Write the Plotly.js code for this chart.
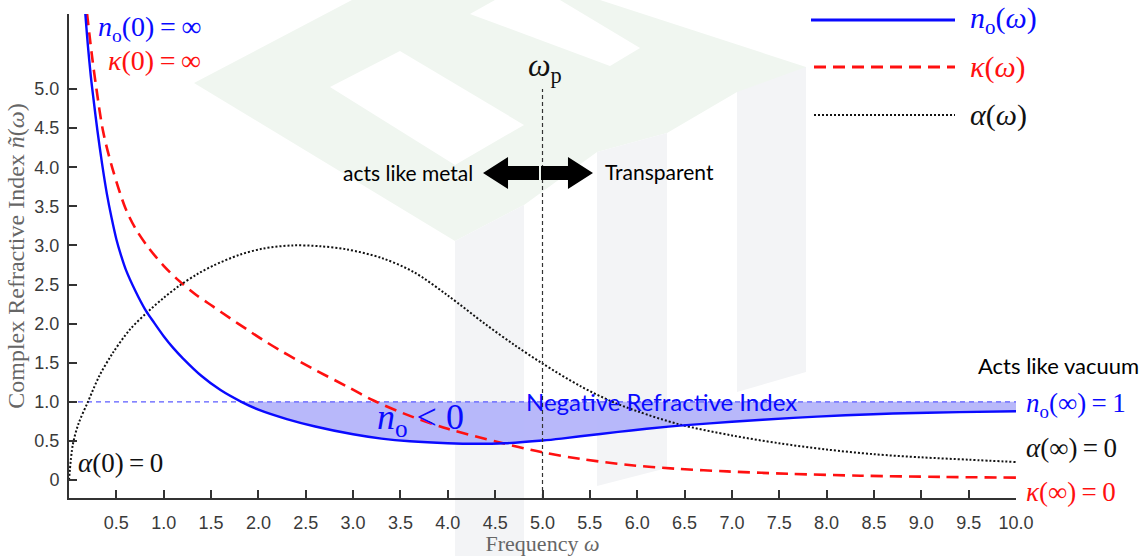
<!DOCTYPE html>
<html>
<head>
<meta charset="utf-8">
<script src="https://cdn.plot.ly/plotly-3.0.1.min.js"></script>
<style>html,body{margin:0;padding:0;background:#fff;}#chart{width:1144px;height:556px;}</style>
</head>
<body>
<div id="chart"></div>
<script>
// ---------------- data ----------------
const omegaN = [0.172,0.2,0.23,0.26,0.3,0.35,0.4,0.45,0.5,0.55,0.6,0.7,0.8,0.9,1.0,1.1,1.2,1.4,1.6,1.82,2.0,2.3,2.6,3.0,3.3,3.6,4.0,4.3,4.6,5.0,5.2,5.4,5.8,6.1,6.45,7.0,7.65,8.2,8.7,9.4,10];
const nO     = [5.97,5.55,5.17,4.86,4.47,4.04,3.66,3.35,3.08,2.87,2.69,2.42,2.19,2.01,1.84,1.69,1.56,1.33,1.15,1.0,0.9,0.78,0.685,0.585,0.53,0.495,0.47,0.463,0.47,0.505,0.53,0.56,0.615,0.655,0.695,0.745,0.795,0.828,0.85,0.868,0.88];

const omegaK = [0.19,0.24,0.29,0.36,0.46,0.595,0.70,0.84,1.0,1.16,1.34,1.52,1.70,1.874,2.05,2.226,2.4,2.58,2.93,3.21,3.6,4.0,4.55,5.0,5.4,5.89,6.4,6.95,7.6,8.36,9.2,10];
const kappa  = [5.97,5.45,5.0,4.46,3.98,3.48,3.22,2.97,2.74,2.55,2.37,2.22,2.07,1.93,1.79,1.66,1.54,1.42,1.2,1.02,0.82,0.655,0.48,0.355,0.27,0.195,0.145,0.11,0.08,0.055,0.04,0.03];

const omegaA = [0,0.04,0.1,0.2,0.32,0.46,0.64,0.84,1.0,1.16,1.35,1.52,1.8,2.05,2.35,2.65,2.93,3.3,3.64,4.0,4.4,4.7,5.0,5.4,5.74,6.0,6.45,7.0,7.5,8.0,8.5,9.0,9.5,10];
const alphaA = [0,0.45,0.72,1.0,1.33,1.62,1.92,2.16,2.33,2.48,2.63,2.74,2.88,2.96,3.0,2.99,2.95,2.84,2.66,2.36,1.99,1.73,1.49,1.2,1.0,0.88,0.71,0.57,0.47,0.39,0.33,0.29,0.26,0.23];

const omegaP = 5.0;      // plasma frequency
const nVacuum = 1.0;     // n_o(infinity)
const omegaMax = 10.0;

const xTickVals = [0.5,1.0,1.5,2.0,2.5,3.0,3.5,4.0,4.5,5.0,5.5,6.0,6.5,7.0,7.5,8.0,8.5,9.0,9.5,10.0];
const xTickText = ['0.5','1.0','1.5','2.0','2.5','3.0','3.5','4.0','4.5','5.0','5.5','6.0','6.5','7.0','7.5','8.0','8.5','9.0','9.5','10.0'];
const yTickVals = [0,0.5,1.0,1.5,2.0,2.5,3.0,3.5,4.0,4.5,5.0];
const yTickText = ['0','0.5','1.0','1.5','2.0','2.5','3.0','3.5','4.0','4.5','5.0'];

// ---------------- layout helpers ----------------
const L = 69, R = 1016, T = 14, B = 498;
const px = v => (v - L) / (R - L);
const py = v => (B - v) / (B - T);
const pathOf = pts => 'M' + pts.map(p => px(p[0]).toFixed(4) + ',' + py(p[1]).toFixed(4)).join(' L') + ' Z';

const BLUE = '#0a0aff', RED = '#ff1010', BLK = '#111111';
const SERIF = '"Liberation Serif", "Times New Roman", serif';
const SANS = 'Lato, "Open Sans", sans-serif';
const ARIAL = '"Liberation Sans", Arial, sans-serif';
const TS = '\u2009';   // thin space

// fill region where n_o < 1
const fillX = [], fillY = [];
omegaN.forEach((w, i) => { if (w >= 1.82) { fillX.push(w); fillY.push(nO[i]); } });

const SM = 0.9;
const traces = [
  {x: [fillX[0], omegaMax], y: [nVacuum, nVacuum], mode: 'lines', line: {width: 0, color: 'rgba(0,0,0,0)'}, hoverinfo: 'skip', showlegend: false},
  {x: fillX, y: fillY, mode: 'lines', fill: 'tonexty', fillcolor: 'rgba(178,178,250,0.92)', line: {width: 0, shape: 'spline', smoothing: SM, color: 'rgba(0,0,0,0)'}, hoverinfo: 'skip', showlegend: false},
  {x: [0, omegaMax], y: [nVacuum, nVacuum], mode: 'lines', line: {color: '#5c5cff', width: 1.4, dash: '5px,4px'}, showlegend: false},
  {x: omegaK, y: kappa, mode: 'lines', name: 'κ(ω)', line: {color: RED, width: 2.6, dash: '12px,7px', shape: 'spline', smoothing: SM}, showlegend: false},
  {x: omegaA, y: alphaA, mode: 'lines', name: 'α(ω)', line: {color: BLK, width: 2, dash: '2px,2px', shape: 'spline', smoothing: SM}, showlegend: false},
  {x: omegaN, y: nO, mode: 'lines', name: 'n_o(ω)', line: {color: BLUE, width: 2.4, shape: 'spline', smoothing: SM}, showlegend: false}
];

// watermark (light cube logo)
const GREEN = '#f0f6f0', GRAY = '#f3f4f6';
const wm = (pts, c) => ({type: 'path', xref: 'paper', yref: 'paper', layer: 'below', line: {width: 0}, fillcolor: c, path: pathOf(pts)});
const shapes = [
  wm([[194,83],[352,0],[600,0],[806,67],[806,95],[737,92],[667,133],[597,152],[524,205],[455,241]], GREEN),
  wm([[330,87],[400,51],[524,125],[455,165]], '#ffffff'),
  wm([[470,14],[495,0],[560,0],[640,48],[610,66]], '#ffffff'),
  wm([[455,241],[524,205],[524,556],[455,556]], GRAY),
  wm([[597,152],[667,133],[667,468],[597,486]], GRAY),
  wm([[737,92],[806,67],[806,372],[737,392]], GRAY),
  // omega_p marker line
  {type: 'line', xref: 'x', yref: 'y', x0: omegaP, x1: omegaP, y0: -0.23, y1: 5.0, line: {color: '#333', width: 1.2, dash: '4px,3px'}},
  // double arrow
  {type: 'path', xref: 'paper', yref: 'paper', line: {width: 0}, fillcolor: '#000',
   path: pathOf([[483,173],[508,157],[508,166],[539,166],[539,180],[508,180],[508,189]])},
  {type: 'path', xref: 'paper', yref: 'paper', line: {width: 0}, fillcolor: '#000',
   path: pathOf([[541,166],[568,166],[568,157],[593,173],[568,189],[568,180],[541,180]])},
  // legend samples
  {type: 'line', xref: 'paper', yref: 'paper', x0: px(811), x1: px(955), y0: py(20), y1: py(20), line: {color: BLUE, width: 3}},
  {type: 'line', xref: 'paper', yref: 'paper', x0: px(814), x1: px(955), y0: py(67), y1: py(67), line: {color: RED, width: 3, dash: '12px,7px'}},
  {type: 'line', xref: 'paper', yref: 'paper', x0: px(814), x1: px(955), y0: py(115), y1: py(115), line: {color: BLK, width: 2, dash: '2px,2px'}}
];

const ann = (x, y, text, opts) => Object.assign({xref: 'paper', yref: 'paper', x: px(x), y: py(y), text: text, showarrow: false, xanchor: 'left', yanchor: 'middle'}, opts);
const mathFont = (c, s) => ({family: SERIF, size: s || 27, color: c});

const annotations = [
  ann(96, 29, '<i>n</i><sub>o</sub>(0)' + TS + '=' + TS + '∞', {font: mathFont(BLUE, 28)}),
  ann(106, 61, '<i>κ</i>(0)' + TS + '=' + TS + '∞', {font: mathFont(RED, 28)}),
  ann(968, 20, '<i>n</i><sub>o</sub>(<i>ω</i>)', {font: mathFont(BLUE, 30)}),
  ann(968, 67, '<i>κ</i>(<i>ω</i>)', {font: mathFont(RED, 30)}),
  ann(968, 115, '<i>α</i>(<i>ω</i>)', {font: mathFont(BLK, 30)}),
  ann(526, 67, '<i>ω</i><sub>p</sub>', {font: mathFont(BLK, 32)}),
  ann(475, 172, 'acts like metal', {xanchor: 'right', font: {family: SANS, size: 21, color: '#000'}}),
  ann(603, 171, 'Transparent', {font: {family: SANS, size: 21, color: '#000'}}),
  ann(76, 463, '<i>α</i>(0)' + TS + '=' + TS + '0', {font: mathFont(BLK, 27)}),
  ann(976, 365, 'Acts like vacuum', {font: {family: SANS, size: 22, color: '#000'}}),
  ann(1024, 405, '<i>n</i><sub>o</sub>(∞)' + TS + '=' + TS + '1', {font: mathFont(BLUE, 27)}),
  ann(1024, 448, '<i>α</i>(∞)' + TS + '=' + TS + '0', {font: mathFont(BLK, 27)}),
  ann(1024, 492, '<i>κ</i>(∞)' + TS + '=' + TS + '0', {font: mathFont(RED, 27)}),
  ann(661, 401, 'Negative Refractive Index', {xanchor: 'center', font: {family: SANS, size: 24, color: BLUE}}),
  ann(375, 419, '<i>n</i><sub>o</sub> &lt; 0', {font: mathFont(BLUE, 36)})
];

const axisCommon = {
  showgrid: false, zeroline: false, showline: true, linecolor: '#333', linewidth: 2,
  ticks: 'inside', ticklen: 8, tickwidth: 2, tickcolor: '#333',
  tickfont: {family: ARIAL, size: 18, color: '#3a3a3a'},
  mirror: false, fixedrange: true
};

const layout = {
  width: 1144, height: 556,
  margin: {l: L, r: 1144 - R, t: T, b: 556 - B, pad: 0},
  paper_bgcolor: '#ffffff', plot_bgcolor: 'rgba(0,0,0,0)',
  font: {family: ARIAL},
  showlegend: false,
  xaxis: Object.assign({}, axisCommon, {
    range: [0, omegaMax], tickmode: 'array', tickvals: xTickVals, ticktext: xTickText,
    ticklabelstandoff: 7,
    title: {text: 'Frequency <i>ω</i>', font: {family: SERIF, size: 22, color: '#666'}, standoff: 4}
  }),
  yaxis: Object.assign({}, axisCommon, {
    range: [-0.23, 5.96], tickmode: 'array', tickvals: yTickVals, ticktext: yTickText,
    ticklabelstandoff: 4,
    title: {text: 'Complex Refractive Index <i>ñ</i>(<i>ω</i>)', font: {family: SERIF, size: 24, color: '#666'}, standoff: 3}
  }),
  shapes: shapes,
  annotations: annotations
};

Plotly.newPlot('chart', traces, layout, {displayModeBar: false, staticPlot: true});
</script>
</body>
</html>
